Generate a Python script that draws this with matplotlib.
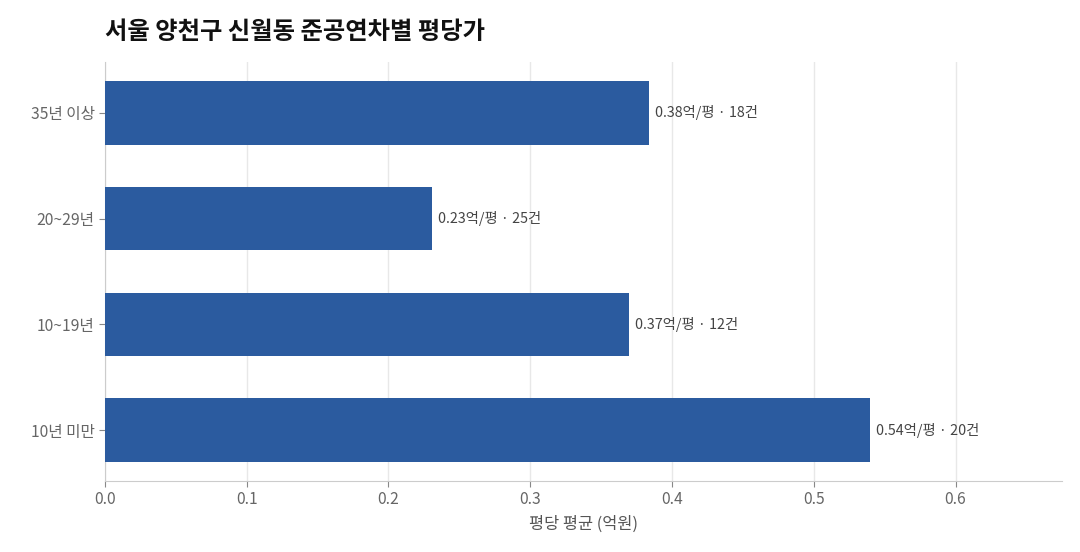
import matplotlib
matplotlib.use("Agg")
import matplotlib.pyplot as plt

plt.rcParams['font.family'] = ['Noto Sans CJK KR', 'DejaVu Sans']

categories = ["35년 이상", "20~29년", "10~19년", "10년 미만"]
values = [0.384, 0.231, 0.370, 0.540]
counts = [18, 25, 12, 20]
xticks = [0.0, 0.1, 0.2, 0.3, 0.4, 0.5, 0.6]

fig = plt.figure(figsize=(10.8, 5.52), dpi=100)
ax = fig.add_axes([0.0972, 0.1286, 0.886, 0.759])

ypos = list(range(len(categories)))
ax.barh(ypos, values, height=0.6, color="#2B5B9F", zorder=3)
ax.set_yticks(ypos)
ax.set_yticklabels(categories)
ax.invert_yaxis()
ax.set_xlim(0, max(values) * 1.25)
ax.set_xticks(xticks)
ax.set_xticklabels([f"{t:.1f}" for t in xticks])

for y, v, c in zip(ypos, values, counts):
    ax.text(v + 0.004, y, f"{v:.2f}억/평 · {c}건", va="center", ha="left",
            fontsize=10.3, color="#444444")

for s in ["top", "right"]:
    ax.spines[s].set_visible(False)
for s in ["left", "bottom"]:
    ax.spines[s].set_color("#cccccc")
ax.grid(axis="x", color="#e8e8e8", linewidth=1, zorder=0)
ax.tick_params(colors="#888888", labelcolor="#666666", labelsize=11.3, length=4)
ax.set_xlabel("평당 평균 (억원)", fontsize=11.8, color="#555555", labelpad=5)

fig.text(0.0972, 0.942, "서울 양천구 신월동 준공연차별 평당가", fontsize=17.5,
         fontweight="bold", ha="left", va="center", color="#111111")

fig.savefig("out.png", dpi=100)
